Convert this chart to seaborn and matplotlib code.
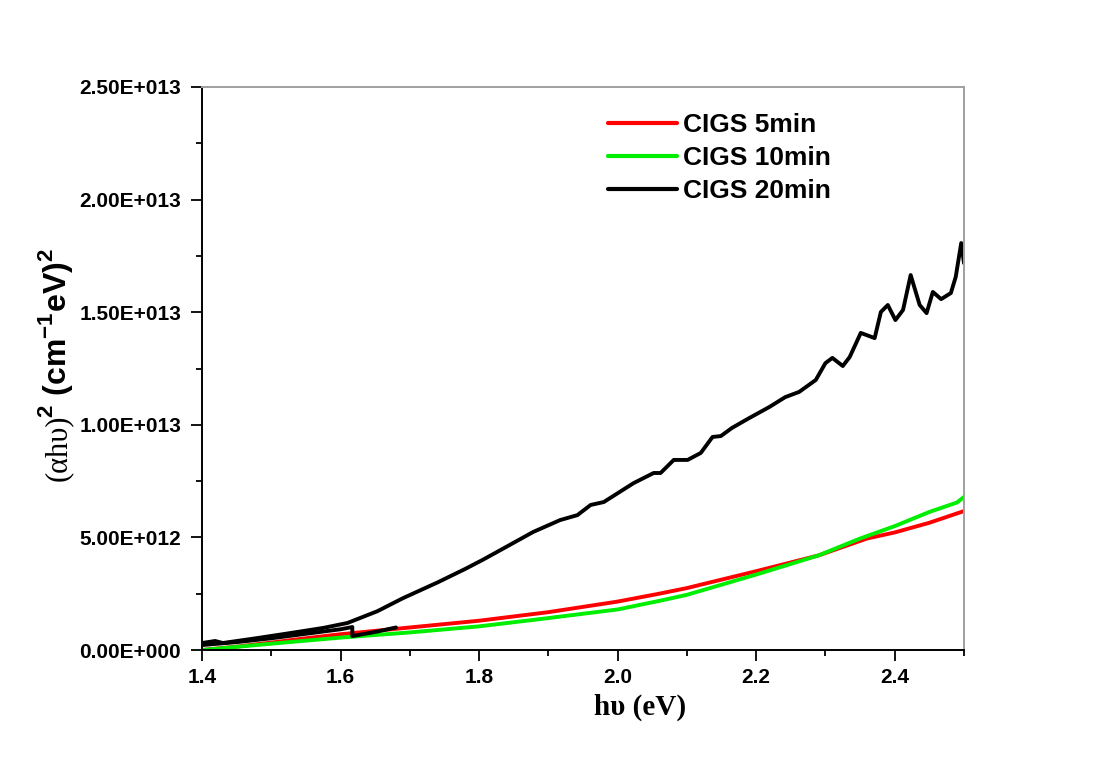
import numpy as np
import pandas as pd
import matplotlib
matplotlib.use("Agg")
import matplotlib.pyplot as plt
import seaborn as sns
from matplotlib.lines import Line2D
from matplotlib.ticker import MultipleLocator

# ---------------- data (y values in units of 1E+012) ----------------
labels = ["CIGS 5min", "CIGS 10min", "CIGS 20min"]
colors = ["#ff0000", "#00ee00", "#000000"]

red_x = [1.40, 1.45, 1.50, 1.55, 1.60, 1.65, 1.70, 1.80, 1.90, 2.00, 2.06, 2.10,
         2.20, 2.29, 2.36, 2.40, 2.45, 2.50]
red_y = [0.00, 0.15, 0.33, 0.52, 0.70, 0.85, 1.00, 1.30, 1.68, 2.15, 2.50, 2.75,
         3.50, 4.20, 4.95, 5.22, 5.65, 6.17]

green_x = [1.40, 1.50, 1.60, 1.70, 1.80, 1.89, 2.00, 2.06, 2.10, 2.20, 2.29, 2.35,
           2.40, 2.45, 2.49, 2.50]
green_y = [0.00, 0.28, 0.55, 0.78, 1.05, 1.38, 1.80, 2.18, 2.45, 3.35, 4.20, 4.95,
           5.50, 6.13, 6.55, 6.80]

black_x = [1.400, 1.419, 1.430, 1.480, 1.527, 1.575, 1.610, 1.653, 1.690, 1.740,
           1.780, 1.805, 1.831, 1.878, 1.917, 1.942, 1.961, 1.980, 2.023,
           2.052, 2.062, 2.081, 2.101, 2.120, 2.137, 2.149, 2.165, 2.190, 2.219,
           2.242, 2.262, 2.286, 2.300, 2.310, 2.325, 2.335, 2.351, 2.371, 2.380,
           2.390, 2.401, 2.412, 2.423, 2.436, 2.446, 2.455, 2.467, 2.481, 2.488,
           2.496, 2.500]
black_y = [0.31, 0.40, 0.31, 0.53, 0.75, 0.98, 1.20, 1.72, 2.30, 3.00,
           3.60, 4.00, 4.44, 5.24, 5.77, 5.99, 6.44, 6.57, 7.41,
           7.86, 7.86, 8.44, 8.44, 8.75, 9.46, 9.50, 9.86, 10.30, 10.79,
           11.23, 11.46, 11.99, 12.74, 12.97, 12.61, 13.01, 14.08, 13.85, 15.01,
           15.32, 14.65, 15.10, 16.65, 15.32, 14.96, 15.90, 15.58, 15.85, 16.56,
           18.07, 17.18]

# overlapping short segment of the 20 min measurement (with its jump)
black2_x = [1.400, 1.450, 1.500, 1.550, 1.600, 1.617, 1.617, 1.650, 1.680]
black2_y = [0.22, 0.35, 0.52, 0.72, 0.92, 1.02, 0.62, 0.80, 1.00]

xticks = [1.4, 1.6, 1.8, 2.0, 2.2, 2.4]
xtick_labels = ["1.4", "1.6", "1.8", "2.0", "2.2", "2.4"]
yticks = [0, 5e12, 1e13, 1.5e13, 2e13, 2.5e13]
ytick_labels = ["0.00E+000", "5.00E+012", "1.00E+013", "1.50E+013", "2.00E+013", "2.50E+013"]

# ---------------- long table ----------------
parts = []
for name, seg, xs, ys in [(labels[0], "r", red_x, red_y),
                          (labels[1], "g", green_x, green_y),
                          (labels[2], "k1", black_x, black_y),
                          (labels[2], "k2", black2_x, black2_y)]:
    parts.append(pd.DataFrame({"x": xs, "y": np.array(ys) * 1e12,
                               "sample": name, "seg": seg}))
df = pd.concat(parts, ignore_index=True)

# ---------------- figure ----------------
sns.set_theme(style="ticks")
plt.rcParams["font.family"] = ["Liberation Sans", "DejaVu Sans"]
plt.rcParams["text.color"] = "black"
plt.rcParams["axes.labelcolor"] = "black"
plt.rcParams["xtick.color"] = "black"
plt.rcParams["ytick.color"] = "black"

W, H = 1112, 776
fig = plt.figure(figsize=(W / 100, H / 100), dpi=100)
fig.patch.set_facecolor("white")
ax = fig.add_axes([202 / W, 126 / H, 762 / W, 563 / H])
ax.set_facecolor("white")

sns.lineplot(data=df, x="x", y="y", hue="sample", hue_order=labels,
             palette=colors, units="seg", estimator=None, sort=False,
             linewidth=2.8, legend=False, ax=ax)
for ln in ax.get_lines():
    ln.set_solid_joinstyle("round")
    ln.set_solid_capstyle("round")

ax.set_xlim(1.4, 2.5)
ax.set_ylim(0, 2.5e13)
ax.set_xticks(xticks, xtick_labels)
ax.set_yticks(yticks, ytick_labels)
ax.xaxis.set_minor_locator(MultipleLocator(0.1))
ax.yaxis.set_minor_locator(MultipleLocator(2.5e12))
ax.set_xlabel("")
ax.set_ylabel("")

ax.tick_params(which="both", direction="out", top=False, right=False,
               color="black", width=1.3)
ax.tick_params(which="major", length=8)
ax.tick_params(which="minor", length=4)
ax.tick_params(axis="y", which="major", pad=7)
ax.tick_params(axis="x", which="major", pad=5)
for lab in ax.get_xticklabels() + ax.get_yticklabels():
    lab.set_fontweight("bold")
    lab.set_fontsize(15)
    lab.set_family(["Liberation Sans", "DejaVu Sans"])
    lab.set_color("black")

for s in ["left", "bottom"]:
    ax.spines[s].set_color("black")
    ax.spines[s].set_linewidth(1.4)
for s in ["top", "right"]:
    ax.spines[s].set_color("#a0a0a0")
    ax.spines[s].set_linewidth(1.4)

# legend
handles = [Line2D([0], [0], color=c, lw=3.0) for c in colors]
leg = ax.legend(handles, labels, loc="upper left",
                bbox_to_anchor=(608 / W, 1 - 113 / H), bbox_transform=fig.transFigure,
                frameon=False, prop=dict(family="Liberation Sans", weight="bold", size=19),
                handlelength=2.6, handletextpad=0.25, labelspacing=0.345,
                borderpad=0, borderaxespad=0)
for t in leg.get_texts():
    t.set_color("black")

# x label
fig.text(640 / W, 1 - 707 / H, "h\u03c5 (eV)", ha="center", va="center", color="black",
         family=["Liberation Serif", "DejaVu Serif"], fontweight="bold", fontsize=21)

# y label: serif part + sans bold part, sharing one baseline
base_x = 66 / W
t1 = fig.text(base_x, 1 - 481 / H, "(\u03b1h\u03c5)", rotation=90, rotation_mode="anchor",
              ha="left", va="baseline", color="black",
              family=["Liberation Serif", "DejaVu Serif"], fontsize=22)
fig.canvas.draw()
ext = t1.get_window_extent(renderer=fig.canvas.get_renderer())
top_px = ext.y1  # pixel from bottom
t2 = fig.text(base_x, (top_px - 3) / H,
              r"$^{\mathregular{2}}$ (cm$^{\mathregular{-1}}$eV)$^{\mathregular{2}}$",
              rotation=90, rotation_mode="anchor", ha="left", va="baseline",
              color="black", family=["Liberation Sans", "DejaVu Sans"],
              fontweight="bold", fontsize=23)

fig.savefig("out.png", dpi=100, facecolor="white")
